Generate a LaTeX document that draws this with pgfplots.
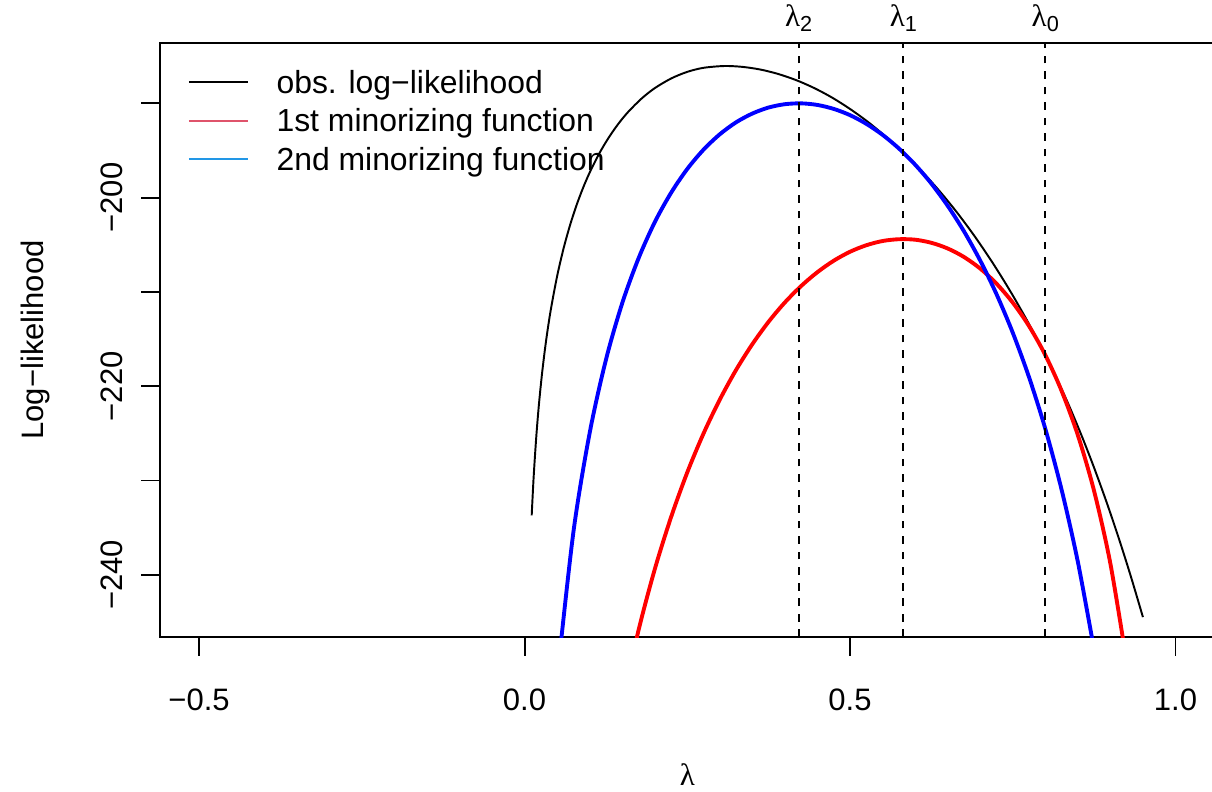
\documentclass[border=0pt]{standalone}
\usepackage{fontspec}
\setmainfont{Liberation Sans}
\newfontfamily\symfont{Liberation Serif}
\usepackage{pgfplots}
\pgfplotsset{compat=1.18}
\definecolor{legred}{HTML}{DF536B}
\definecolor{legblue}{HTML}{2297E6}
\newcommand{\lam}{{\symfont λ}}
\newcommand{\lamsub}[1]{\lam\raisebox{-1.9pt}{\fontsize{8.4}{10}\selectfont #1}}
\begin{document}
\begin{tikzpicture}[font=\fontsize{12}{14.4}\selectfont]
\useasboundingbox (0,0) rectangle (469.04pt,306.12pt);
\begin{axis}[
  at={(61.92pt,59.6pt)}, anchor=south west,
  scale only axis, width=408.1pt, height=229.88pt,
  xmin=-0.56, xmax=1.06, ymin=-246.6, ymax=-183.6,
  clip mode=individual,
  axis line style={line width=0.75pt},
  every tick/.style={black, line width=0.75pt},
  tick align=outside, major tick length=7.2pt,
  xtick pos=left, ytick pos=left,
  xtick={-0.5,0,0.5,1}, xticklabels={−0.5,0.0,0.5,1.0},
  ytick={-240,-230,-220,-210,-200,-190}, yticklabels={−240,,−220,,−200,},
  xticklabel style={anchor=north, inner sep=0pt},
  xticklabel shift=12.54pt,
  yticklabel style={rotate=90, anchor=south, inner sep=0pt},
  yticklabel shift=7.1pt,
  xlabel={\lam}, ylabel={Log−likelihood},
  every axis x label/.style={at={([yshift=-57.3pt]axis description cs:0.5,0)}, anchor=base},
  every axis y label/.style={at={([xshift=-44.9pt]axis description cs:0,0.5)}, rotate=90, anchor=base},
  legend cell align=left,
  legend image code/.code={\path[draw=none] (0pt,0pt) rectangle (22.8pt,0pt); \draw[#1] (0pt,4.3pt) -- (22.8pt,4.3pt);},
  legend style={draw=none, fill=none, at={(rel axis cs:0,1)}, anchor=north west,
    xshift=10.84pt, yshift=-10.9pt, inner sep=0pt, outer sep=0pt,
    row sep={14.9pt,between origins}, column sep=10.7pt,
    cells={anchor=base west}, font=\fontsize{12.35}{14.8}\selectfont,
    nodes={inner sep=0pt, outer sep=0pt, text height=8.6pt, text depth=0pt}},
]
\addlegendimage{black, line width=0.75pt}
\addlegendentry{obs. log−likelihood}
\addlegendimage{legred, line width=0.75pt}
\addlegendentry{1st minorizing function}
\addlegendimage{legblue, line width=0.75pt}
\addlegendentry{2nd minorizing function}

% observed log-likelihood
\addplot[black, line width=0.75pt, smooth, forget plot] coordinates {
(0.011,-233.70) (0.014,-229.63) (0.018,-225.40) (0.022,-222.02) (0.027,-218.59)
(0.033,-215.23) (0.04,-212.03) (0.05,-208.35) (0.06,-205.38) (0.07,-202.90)
(0.08,-200.78) (0.09,-198.95) (0.10,-197.35) (0.115,-195.29) (0.13,-193.56)
(0.145,-192.09) (0.16,-190.85) (0.18,-189.48) (0.2,-188.39) (0.225,-187.37)
(0.25,-186.66) (0.275,-186.23) (0.307,-186.04) (0.3345,-186.13) (0.362,-186.41)
(0.3895,-186.88) (0.417,-187.53) (0.4445,-188.36) (0.472,-189.37) (0.4995,-190.57)
(0.527,-191.94) (0.5545,-193.50) (0.582,-195.23) (0.60925,-197.13) (0.6365,-199.22)
(0.66375,-201.52) (0.691,-204.05) (0.71825,-206.82) (0.7455,-209.84) (0.77275,-213.12)
(0.8,-216.69) (0.81875,-219.35) (0.8375,-222.22) (0.85625,-225.32) (0.875,-228.65)
(0.89375,-232.22) (0.9125,-236.04) (0.93125,-240.13) (0.95,-244.49)
};
% 1st minorizing function
\addplot[red, line width=1.5pt, smooth, forget plot] coordinates {
(0.15,-253.64) (0.175,-245.92) (0.2,-239.43) (0.225,-233.91) (0.25,-229.14)
(0.275,-225.01) (0.3,-221.42) (0.325,-218.27) (0.35,-215.54) (0.375,-213.16)
(0.4,-211.11) (0.425,-209.37) (0.45,-207.90) (0.475,-206.69) (0.5,-205.74)
(0.525,-205.05) (0.55,-204.60) (0.575,-204.41) (0.6,-204.46) (0.625,-204.79)
(0.65,-205.39) (0.675,-206.29) (0.7,-207.52) (0.725,-209.12) (0.75,-211.13)
(0.775,-213.62) (0.8,-216.69) (0.825,-220.49) (0.85,-225.19) (0.875,-231.12)
(0.9,-238.82) (0.925,-249.25)
};
% 2nd minorizing function
\addplot[blue, line width=1.5pt, smooth, forget plot] coordinates {
(0.05,-251.03) (0.075,-235.51) (0.1,-224.98) (0.125,-217.21) (0.15,-211.21)
(0.175,-206.46) (0.2,-202.61) (0.225,-199.50) (0.25,-196.96) (0.275,-194.91)
(0.3,-193.28) (0.325,-192.01) (0.35,-191.08) (0.375,-190.44) (0.4,-190.09)
(0.425,-190.00) (0.45,-190.17) (0.475,-190.59) (0.5,-191.25) (0.525,-192.17)
(0.55,-193.34) (0.575,-194.78) (0.6,-196.50) (0.625,-198.51) (0.65,-200.86)
(0.675,-203.56) (0.7,-206.67) (0.725,-210.23) (0.75,-214.32) (0.775,-219.04)
(0.8,-224.51) (0.825,-230.96) (0.85,-238.62) (0.875,-247.95)
};
% vertical dashed lines at lambda_2, lambda_1, lambda_0
\addplot[black, line width=0.75pt, dash pattern=on 3pt off 3pt, forget plot] coordinates {(0.421,-246.6) (0.421,-183.6)};
\addplot[black, line width=0.75pt, dash pattern=on 3pt off 3pt, forget plot] coordinates {(0.582,-246.6) (0.582,-183.6)};
\addplot[black, line width=0.75pt, dash pattern=on 3pt off 3pt, forget plot] coordinates {(0.8,-246.6) (0.8,-183.6)};
\node[anchor=base, inner sep=0pt] at ([yshift=6.3pt]axis cs:0.421,-183.6) {\lamsub{2}};
\node[anchor=base, inner sep=0pt] at ([yshift=6.3pt]axis cs:0.582,-183.6) {\lamsub{1}};
\node[anchor=base, inner sep=0pt] at ([yshift=6.3pt]axis cs:0.8,-183.6) {\lamsub{0}};
\end{axis}
\end{tikzpicture}
\end{document}
